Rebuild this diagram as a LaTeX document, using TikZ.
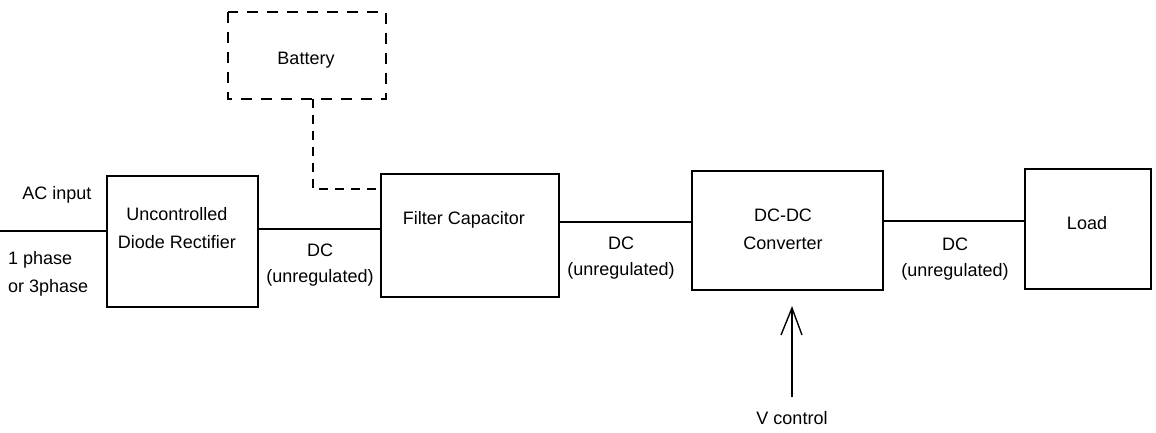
\documentclass[tikz,border=0pt]{standalone}
\usepackage{fontspec}
\setmainfont{Liberation Sans}
\begin{document}
\begin{tikzpicture}[x=1pt,y=-1pt,
  blk/.style={draw,line width=1.6pt,inner sep=0pt},
  conn/.style={line width=1.6pt},
  dconn/.style={line width=1.6pt,dash pattern=on 9pt off 7pt},
  lbl/.style={font=\fontsize{18}{21}\selectfont,align=center,inner sep=0pt},
  lbll/.style={font=\fontsize{18}{21}\selectfont,align=left,inner sep=0pt,anchor=west}]
\useasboundingbox (0,0) rectangle (1156,433);
% boxes
\draw[blk] (107,176) rectangle (258,307);
\node[lbl] (rect) at (177,228) {Uncontrolled\\[7pt]Diode Rectifier};
\coordinate (rectL) at (107,231);
\coordinate (rectR) at (258,229);
\draw[blk] (381,174) rectangle (559,297);
\node[lbl] (filt) at (464,220) {Filter Capacitor};
\coordinate (filtL) at (381,229);
\coordinate (filtR) at (559,222);
\coordinate (filtL2) at (381,189);
\draw[blk] (692,171) rectangle (883,290);
\node[lbl] (conv) at (783,229) {DC-DC\\[7pt]Converter};
\coordinate (convL) at (692,222);
\coordinate (convR) at (883,221);
\coordinate (tip) at (792,308);
\draw[blk] (1025,169) rectangle (1151,289);
\node[lbl] (load) at (1087,223) {Load};
\coordinate (loadL) at (1025,221);
\draw[blk,dash pattern=on 11pt off 9pt] (228,12) rectangle (386,99);
\node[lbl] (batt) at (306,60) {Battery};
\coordinate (battB) at (313,99);
\coordinate (corner) at (313,189);
\coordinate (acin) at (0,231);
\coordinate (vc) at (792,397);
% connectors
\draw[conn] (acin) -- (rectL);
\draw[conn] (rectR) -- (filtL);
\draw[conn] (filtR) -- (convL);
\draw[conn] (convR) -- (loadL);
\draw[dconn] (battB) -- (corner) -- (filtL2);
\draw[conn] (vc) -- (tip);
\draw[line width=1.4pt] ([shift={(-11,27)}]tip) -- (tip) -- ([shift={(10,27)}]tip);
% labels
\node[lbl] (ac) at (57,195) {AC input};
\node[lbll] (ph) at (8,274) {1 phase\\[7pt]or 3phase};
\node[lbl] (dc1) at (320,265) {DC\\[5pt](unregulated)};
\node[lbl] (dc2) at (621,258) {DC\\[5pt](unregulated)};
\node[lbl] (dc3) at (955,259) {DC\\[5pt](unregulated)};
\node[lbl] (vcl) at (792,418) {V control};
\end{tikzpicture}
\end{document}
